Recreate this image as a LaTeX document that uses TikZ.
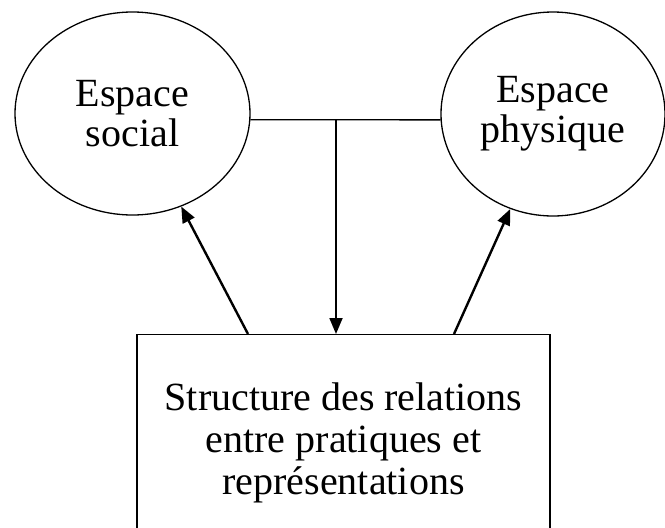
\documentclass[tikz,border=0pt]{standalone}
\usepackage{fontspec}
\setmainfont{Liberation Serif}
\usetikzlibrary{shapes.geometric,arrows.meta}
\begin{document}
\begin{tikzpicture}[x=1pt,y=-1pt,
  oval/.style={draw,ellipse,line width=1.3pt,inner sep=0pt,align=center,
    font=\fontsize{40}{40}\selectfont},
  mainbox/.style={draw,rectangle,line width=1.3pt,inner sep=0pt,align=center,
    minimum width=413pt,minimum height=216pt,anchor=north,
    font=\fontsize{40}{42}\selectfont},
  link/.style={line width=1.3pt},
  arr/.style={line width=2.4pt,-{Triangle[length=16pt,width=13pt]}},
  varr/.style={line width=1.8pt,-{Triangle[length=16pt,width=13pt]}}]
\useasboundingbox (0,0) rectangle (665,528);
\clip (0,0) rectangle (665,528);
\node[oval,minimum width=235pt,minimum height=203pt] (L) at (132.5,113.5) {Espace\\social};
\node[oval,minimum width=224pt,minimum height=204pt] (R) at (553,114) {Espace\\physique};
\node[mainbox] (B) at (343.5,334) {Structure des relations\\entre pratiques et\\représentations};
\coordinate (J) at (336,119);
\coordinate (SL) at (248,334);
\coordinate (SR) at (454,334);
\draw[link] (L.-3) -- (R.183);
\draw[varr] (J) -- (J |- B.north);
\draw[arr] (SL) -- (L);
\draw[arr] (SR) -- (R);
\end{tikzpicture}
\end{document}
